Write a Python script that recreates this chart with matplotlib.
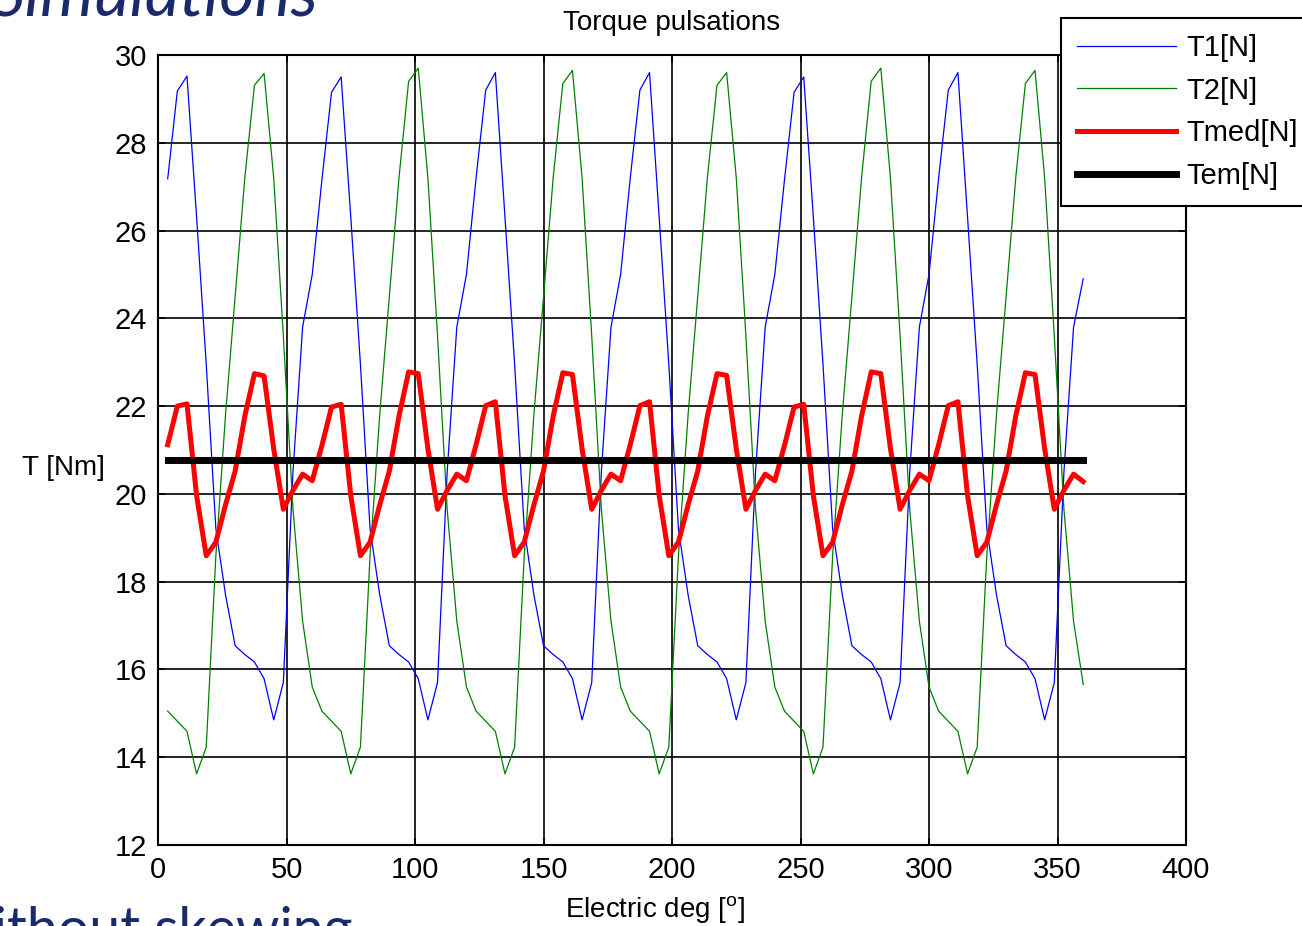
import numpy as np
import matplotlib
matplotlib.use('Agg')
import matplotlib.pyplot as plt

plt.rcParams['font.family'] = ['Liberation Sans', 'DejaVu Sans']
plt.rcParams['mathtext.fontset'] = 'custom'
plt.rcParams['mathtext.rm'] = 'Liberation Sans'

# electric angle, one sample every 3.75 deg
deg = np.arange(1, 97) * 3.75

t1 = [27.18, 29.18, 29.52, 26.30, 22.95, 19.20, 17.70, 16.54, 16.34, 16.17, 15.79, 14.85, 15.70, 20.50, 23.80, 25.00,
      27.15, 29.15, 29.50, 26.30, 22.95, 19.20, 17.70, 16.54, 16.34, 16.17, 15.79, 14.85, 15.70, 20.50, 23.80, 25.00,
      27.20, 29.20, 29.60, 26.30, 22.95, 19.20, 17.70, 16.54, 16.34, 16.17, 15.79, 14.85, 15.70, 20.50, 23.80, 25.00,
      27.20, 29.20, 29.60, 26.30, 22.95, 19.20, 17.70, 16.54, 16.34, 16.17, 15.79, 14.85, 15.70, 20.50, 23.80, 25.00,
      27.15, 29.15, 29.50, 26.30, 22.95, 19.20, 17.70, 16.54, 16.34, 16.17, 15.79, 14.85, 15.70, 20.50, 23.80, 25.00,
      27.20, 29.20, 29.60, 26.30, 22.95, 19.20, 17.70, 16.54, 16.34, 16.17, 15.79, 14.85, 15.70, 20.50, 23.80, 24.90]

t2 = [15.05, 14.82, 14.59, 13.62, 14.23, 18.60, 21.80, 24.50, 27.20, 29.31, 29.58, 27.20, 23.60, 19.65, 17.10, 15.60,
      15.05, 14.82, 14.59, 13.62, 14.23, 18.60, 21.80, 24.50, 27.20, 29.40, 29.70, 27.20, 23.60, 19.65, 17.10, 15.60,
      15.05, 14.82, 14.59, 13.62, 14.23, 18.60, 21.80, 24.50, 27.20, 29.35, 29.65, 27.20, 23.60, 19.65, 17.10, 15.60,
      15.05, 14.82, 14.59, 13.62, 14.23, 18.60, 21.80, 24.50, 27.20, 29.31, 29.60, 27.20, 23.60, 19.65, 17.10, 15.60,
      15.05, 14.82, 14.59, 13.62, 14.23, 18.60, 21.80, 24.50, 27.20, 29.40, 29.70, 27.20, 23.60, 19.65, 17.10, 15.60,
      15.05, 14.82, 14.59, 13.62, 14.23, 18.60, 21.80, 24.50, 27.20, 29.35, 29.65, 27.20, 23.60, 19.65, 17.10, 15.66]

tmed = [21.12, 22.00, 22.05, 19.96, 18.59, 18.90, 19.75, 20.52, 21.77, 22.74, 22.69, 21.03, 19.65, 20.08, 20.45, 20.30,
        21.10, 21.98, 22.04, 19.96, 18.59, 18.90, 19.75, 20.52, 21.77, 22.78, 22.74, 21.03, 19.65, 20.08, 20.45, 20.30,
        21.12, 22.01, 22.10, 19.96, 18.59, 18.90, 19.75, 20.52, 21.77, 22.76, 22.72, 21.03, 19.65, 20.08, 20.45, 20.30,
        21.12, 22.01, 22.10, 19.96, 18.59, 18.90, 19.75, 20.52, 21.77, 22.74, 22.70, 21.03, 19.65, 20.08, 20.45, 20.30,
        21.10, 21.98, 22.04, 19.96, 18.59, 18.90, 19.75, 20.52, 21.77, 22.78, 22.74, 21.03, 19.65, 20.08, 20.45, 20.30,
        21.12, 22.01, 22.10, 19.96, 18.59, 18.90, 19.75, 20.52, 21.77, 22.76, 22.72, 21.03, 19.65, 20.08, 20.45, 20.28]

tem_level = 20.78

navy = '#1a2a6c'

fig = plt.figure(figsize=(13.02, 9.26), dpi=100)
ax = fig.add_axes([0.1214, 0.0875, 0.7895, 0.8531])

ax.plot(deg, t1, color='#0000ff', lw=0.9, label='T1[N]')
ax.plot(deg, t2, color='#008000', lw=0.9, label='T2[N]')
ax.plot(deg, tmed, color='#ff0000', lw=3.6, label='Tmed[N]')
ax.plot(deg, np.full_like(deg, tem_level), color='black', lw=5, label='Tem[N]')

ax.set_xlim(0, 400)
ax.set_ylim(12, 30)
ax.set_xticks(np.arange(0, 401, 50))
ax.set_yticks(np.arange(12, 31, 2))
ax.grid(True, color='black', lw=1.2, ls='-')
ax.tick_params(direction='in', top=True, right=True, labelsize=21, length=5, width=1.2, pad=8)
for s in ax.spines.values():
    s.set_linewidth(1.5)

ax.set_title('Torque pulsations', fontsize=20, pad=18)
ax.set_xlabel(r'Electric deg [$^{\rm o}$]', fontsize=20)
ax.xaxis.set_label_coords(0.4835, -0.083)
ax.xaxis.label.set_va('center')
ax.set_ylabel('T [Nm]', fontsize=20, rotation=0, ha='center', va='center')
ax.yaxis.set_label_coords(-0.0924, 0.477)

leg = fig.legend(loc='upper left', bbox_to_anchor=(1061 / 1302, 1 - 18 / 926), fontsize=21,
                 fancybox=False, edgecolor='black', framealpha=1, borderaxespad=0,
                 handlelength=3.4, handletextpad=0.35, labelspacing=0.5, borderpad=0.55)
leg.get_frame().set_linewidth(1.5)

# slide text around the chart, cut by the image edges as in the source
fig.text(318 / 1302, 1 - 15 / 926, 'Simulations', color=navy, fontsize=49, family='Lato',
         style='italic', ha='right', va='baseline')
fig.text(352 / 1302, -0.022, 'without skewing', color=navy, fontsize=40, family='Lato',
         ha='right', va='baseline')

fig.savefig('out.png', dpi=100)
